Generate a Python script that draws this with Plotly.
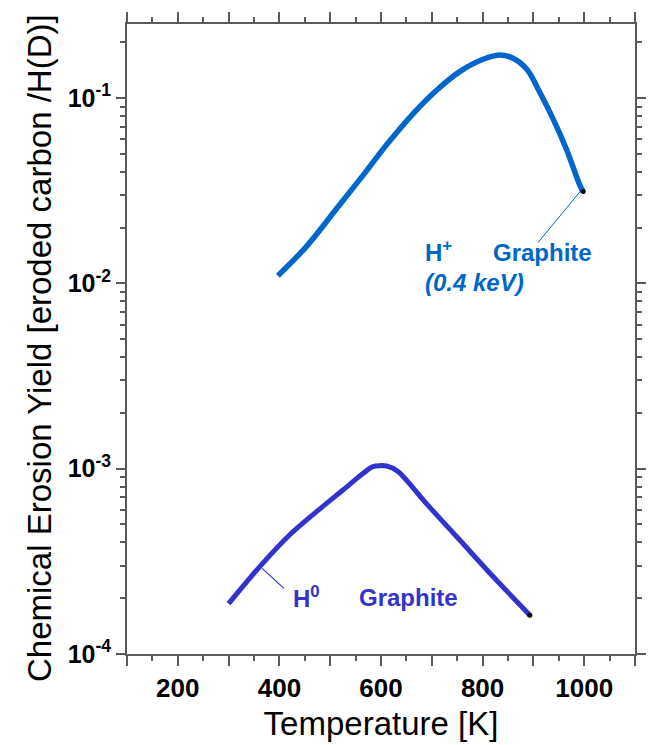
import plotly.graph_objects as go

# ---- data ----
hplus_T = [397, 453, 512, 565, 611, 663, 709, 755, 801, 834, 860, 887, 913, 939, 965, 992, 998]
hplus_Y = [0.0110, 0.0158, 0.0252, 0.0384, 0.0560, 0.0823, 0.110, 0.139, 0.162, 0.171,
           0.164, 0.143, 0.107, 0.077, 0.0530, 0.0336, 0.0313]

h0_T = [300, 364, 420, 473, 525, 565, 584, 611, 634, 689, 755, 821, 893]
h0_Y = [1.87e-4, 3.02e-4, 4.39e-4, 5.86e-4, 7.67e-4, 9.44e-4, 1.026e-3, 1.034e-3,
        9.64e-4, 6.5e-4, 4.12e-4, 2.61e-4, 1.62e-4]

# leader lines for labels
hplus_leader_T = [994, 909]
hplus_leader_Y = [0.0318, 0.0166]
h0_leader_T = [366, 409]
h0_leader_Y = [2.90e-4, 2.26e-4]

x_major = [100, 200, 300, 400, 500, 600, 700, 800, 900, 1000, 1100]
x_labels = ["", "200", "", "400", "", "600", "", "800", "", "1000", ""]
x_minor = [150, 250, 350, 450, 550, 650, 750, 850, 950, 1050]

y_major = [1e-4, 1e-3, 1e-2, 1e-1]
y_labels = ["10<sup>-4</sup>", "10<sup>-3</sup>", "10<sup>-2</sup>", "10<sup>-1</sup>"]
y_minor = [m * 10 ** e for e in (-4, -3, -2) for m in range(2, 10)] + [0.2]

C_HP = "#0066CC"
C_H0 = "#3333CC"
AX = "#5a5a5a"
FONT = "Liberation Sans, Arial, sans-serif"

L, R, T, B = 127, 16, 24, 91
W, H = 651, 745
PW, PH = W - L - R, H - T - B

fig = go.Figure()
fig.add_trace(go.Scatter(x=hplus_T, y=hplus_Y, mode="lines",
                         line=dict(color=C_HP, width=5.5, shape="spline", smoothing=1.0)))
fig.add_trace(go.Scatter(x=h0_T, y=h0_Y, mode="lines",
                         line=dict(color=C_H0, width=5, shape="spline", smoothing=0.8)))
fig.add_trace(go.Scatter(x=hplus_leader_T, y=hplus_leader_Y, mode="lines",
                         line=dict(color=C_HP, width=1)))
fig.add_trace(go.Scatter(x=h0_leader_T, y=h0_leader_Y, mode="lines",
                         line=dict(color=C_H0, width=1.2)))
fig.add_trace(go.Scatter(x=[hplus_T[-1], h0_T[-1]], y=[hplus_Y[-1], h0_Y[-1]], mode="markers",
                         marker=dict(color="black", size=5)))

anns = [
    dict(text="H<sup>+</sup>", x=682, y=-1.824, color=C_HP, italic=False),
    dict(text="Graphite", x=816, y=-1.835, color=C_HP, italic=False),
    dict(text="(0.4 keV)", x=682, y=-1.997, color=C_HP, italic=True),
    dict(text="H<sup>0</sup>", x=423, y=-3.693, color=C_H0, italic=False),
    dict(text="Graphite", x=553, y=-3.693, color=C_H0, italic=False),
]
for a in anns:
    fig.add_annotation(text=a["text"], x=a["x"], y=a["y"], xref="x", yref="y",
                       showarrow=False, xanchor="left", yanchor="middle",
                       font=dict(family=FONT, size=24, weight="bold", color=a["color"],
                                 style="italic" if a["italic"] else "normal"))

# y-axis title as rotated annotation (placed like the reference)
fig.add_annotation(text="Chemical Erosion Yield [eroded carbon /H(D)]",
                   xref="paper", yref="paper",
                   x=(40 - L) / PW, y=(H - B - 348) / PH,
                   xanchor="center", yanchor="middle", textangle=-90, showarrow=False,
                   font=dict(family=FONT, size=33, color="black"))

fig.update_layout(
    width=W, height=H,
    margin=dict(l=L, r=R, t=T, b=B, autoexpand=False),
    plot_bgcolor="white", paper_bgcolor="white",
    showlegend=False,
    font=dict(family=FONT, color="black"),
)
fig.update_xaxes(
    range=[100, 1100], showgrid=False, zeroline=False, automargin=False,
    showline=True, linecolor=AX, linewidth=2, mirror="ticks",
    ticks="outside", ticklen=10, tickwidth=2, tickcolor=AX,
    tickmode="array", tickvals=x_major, ticktext=x_labels,
    tickfont=dict(family=FONT, size=26, weight="bold", color="black"),
    minor=dict(ticks="outside", ticklen=5, tickwidth=2, tickcolor=AX,
               tickmode="array", tickvals=x_minor, showgrid=False),
    title=dict(text="Temperature [K]", font=dict(family=FONT, size=33, color="black"), standoff=10),
)
fig.update_yaxes(
    type="log", range=[-4, -0.6], showgrid=False, zeroline=False, automargin=False,
    showline=True, linecolor=AX, linewidth=2, mirror="ticks",
    ticks="outside", ticklen=9, tickwidth=2, tickcolor=AX,
    tickmode="array", tickvals=y_major, ticktext=y_labels,
    tickfont=dict(family=FONT, size=25, weight="bold", color="black"),
    minor=dict(ticks="outside", ticklen=5, tickwidth=2, tickcolor=AX,
               tickmode="array", tickvals=y_minor, showgrid=False),
)

fig.write_html("out.html")
